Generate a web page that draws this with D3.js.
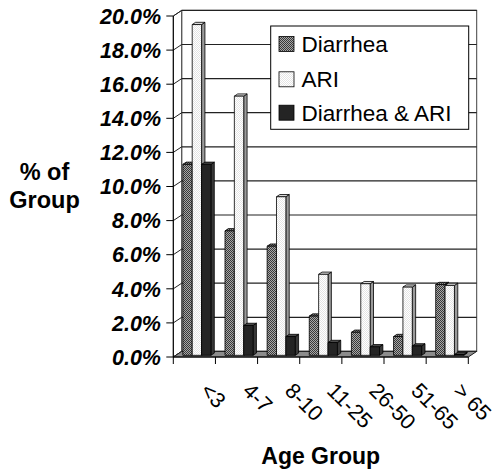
<!DOCTYPE html>
<html>
<head>
<meta charset="utf-8">
<script src="https://cdn.jsdelivr.net/npm/d3@7"></script>
<style>
    body { margin: 0; background: #fff; }
    text { font-family: "Liberation Sans", Arial, sans-serif; fill: #000; }
</style>
</head>
<body>
<div id="chart"></div>
<script>
var categories = ["<3", "4-7", "8-10", "11-25", "26-50", "51-65", "> 65"];
var seriesNames = ["Diarrhea", "ARI", "Diarrhea & ARI"];
var diarrhea = [11.2, 7.3, 6.4, 2.3, 1.35, 1.1, 4.15];
var ari = [19.4, 15.2, 9.3, 4.75, 4.2, 4.0, 4.1];
var both = [11.2, 1.75, 1.1, 0.75, 0.5, 0.55, 0.05];
var yTicks = [0, 2, 4, 6, 8, 10, 12, 14, 16, 18, 20];

var W = 496, H = 474;
// depth offset of the 3d box, and the slice of depth used by the columns
var DX = 8.4, DY = -5.6, F0 = 0.3, F1 = 0.7;

var svg = d3.select("#chart").append("svg")
    .attr("width", W)
    .attr("height", H);

var defs = svg.append("defs");

function checker(id, a, b) {
    var p = defs.append("pattern")
        .attr("id", id)
        .attr("width", 2)
        .attr("height", 2)
        .attr("patternUnits", "userSpaceOnUse");
    p.append("rect").attr("width", 2).attr("height", 2).attr("fill", a);
    p.append("rect").attr("width", 1).attr("height", 1).attr("fill", b);
    p.append("rect").attr("x", 1).attr("y", 1).attr("width", 1).attr("height", 1).attr("fill", b);
}
checker("dFront", "#a8a8a8", "#383838");
checker("dSide", "#707070", "#202020");
checker("dTop", "#909090", "#303030");
checker("aFront", "#ffffff", "#e4e4e4");

var styles = [
    {front: "url(#dFront)", side: "url(#dSide)", top: "url(#dTop)"},
    {front: "url(#aFront)", side: "#9a9a9a", top: "#d8d8d8"},
    {front: "#242424", side: "#383838", top: "#4a4a4a"}
];

var x0 = d3.scaleBand()
    .domain(categories)
    .range([173.3, 468.3])
    .padding(0);

var x1 = d3.scaleBand()
    .domain(seriesNames)
    .range([0, x0.bandwidth()])
    .paddingInner(0)
    .paddingOuter(0.75);

var y = d3.scaleLinear()
    .domain([0, 20])
    .range([357, 16]);

var xL = x0.range()[0], xR = x0.range()[1];

function pts(arr) {
    return arr.map(function(p) { return p[0].toFixed(2) + "," + p[1].toFixed(2); }).join(" ");
}

// back wall
svg.append("rect")
    .attr("x", xL + DX)
    .attr("y", y(20) + DY)
    .attr("width", xR - xL)
    .attr("height", y(0) - y(20))
    .attr("fill", "#fff")
    .attr("stroke", "#404040");

// left wall
svg.append("polygon")
    .attr("points", pts([[xL, y(0)], [xL, y(20)], [xL + DX, y(20) + DY], [xL + DX, y(0) + DY]]))
    .attr("fill", "#fff")
    .attr("stroke", "#404040");

// gridlines on the walls
yTicks.forEach(function(t) {
    svg.append("line")
        .attr("x1", xL + DX).attr("x2", xR + DX)
        .attr("y1", y(t) + DY).attr("y2", y(t) + DY)
        .attr("stroke", "#222")
        .attr("stroke-width", 1.2);
    svg.append("line")
        .attr("x1", xL).attr("x2", xL + DX)
        .attr("y1", y(t)).attr("y2", y(t) + DY)
        .attr("stroke", "#222");
});

// floor
svg.append("polygon")
    .attr("points", pts([[xL, y(0)], [xR, y(0)], [xR + DX, y(0) + DY], [xL + DX, y(0) + DY]]))
    .attr("fill", "#8c8c8c")
    .attr("stroke", "#202020");

// legend box sits on the back wall
var lg = svg.append("g");
lg.append("rect")
    .attr("x", 270.7)
    .attr("y", 26)
    .attr("width", 198)
    .attr("height", 103.3)
    .attr("fill", "#fff")
    .attr("stroke", "#000");

var data = [diarrhea, ari, both];

categories.forEach(function(c, ci) {
    seriesNames.forEach(function(s, si) {
        var v = data[si][ci];
        var bx = x0(c) + x1(s) + F0 * DX;
        var bw = x1.bandwidth();
        var by0 = y(0) + F0 * DY;
        var by1 = y(v) + F0 * DY;
        var ddx = (F1 - F0) * DX, ddy = (F1 - F0) * DY;
        var g = svg.append("g").attr("stroke", "#000").attr("stroke-width", 0.8).attr("stroke-linejoin", "round");
        g.append("polygon")
            .attr("points", pts([[bx + bw, by0], [bx + bw + ddx, by0 + ddy], [bx + bw + ddx, by1 + ddy], [bx + bw, by1]]))
            .attr("fill", styles[si].side);
        g.append("polygon")
            .attr("points", pts([[bx, by1], [bx + bw, by1], [bx + bw + ddx, by1 + ddy], [bx + ddx, by1 + ddy]]))
            .attr("fill", styles[si].top);
        g.append("rect")
            .attr("x", bx)
            .attr("y", by1)
            .attr("width", bw)
            .attr("height", by0 - by1)
            .attr("fill", styles[si].front);
    });
});

// value axis on the front left edge
svg.append("line")
    .attr("x1", xL).attr("x2", xL)
    .attr("y1", y(0)).attr("y2", y(20))
    .attr("stroke", "#000");

yTicks.forEach(function(t) {
    svg.append("line")
        .attr("x1", xL - 7).attr("x2", xL)
        .attr("y1", y(t)).attr("y2", y(t))
        .attr("stroke", "#000");
    svg.append("text")
        .attr("x", 161)
        .attr("y", y(t))
        .attr("dy", "0.36em")
        .attr("text-anchor", "end")
        .style("font-size", "21.5px")
        .style("font-weight", "bold")
        .style("font-style", "italic")
        .text(d3.format(".1f")(t) + "%");
});

// category axis on the front bottom edge
svg.append("line")
    .attr("x1", xL).attr("x2", xR)
    .attr("y1", y(0)).attr("y2", y(0))
    .attr("stroke", "#000");

d3.range(categories.length + 1).forEach(function(i) {
    var tx = xL + i * x0.step();
    svg.append("line")
        .attr("x1", tx).attr("x2", tx)
        .attr("y1", y(0)).attr("y2", y(0) + 7)
        .attr("stroke", "#000");
});

categories.forEach(function(c) {
    var cx = x0(c) + x0.bandwidth() / 2 + 5;
    svg.append("text")
        .attr("transform", "translate(" + cx + ",392) rotate(45)")
        .attr("text-anchor", "start")
        .style("font-size", "21.5px")
        .text(c);
});

// axis titles
svg.append("text")
    .attr("x", 44.5)
    .attr("y", 180)
    .attr("text-anchor", "middle")
    .style("font-size", "23.5px")
    .style("font-weight", "bold")
    .text("% of");
svg.append("text")
    .attr("x", 44.5)
    .attr("y", 208)
    .attr("text-anchor", "middle")
    .style("font-size", "23.5px")
    .style("font-weight", "bold")
    .text("Group");
svg.append("text")
    .attr("x", 320.7)
    .attr("y", 464)
    .attr("text-anchor", "middle")
    .style("font-size", "23px")
    .style("font-weight", "bold")
    .text("Age Group");

// legend entries
var legendY = [44, 79.3, 112.7];
seriesNames.forEach(function(s, si) {
    lg.append("rect")
        .attr("x", 279)
        .attr("y", legendY[si] - 7.5)
        .attr("width", 15)
        .attr("height", 15)
        .attr("fill", styles[si].front)
        .attr("stroke", "#000")
        .attr("stroke-width", 0.8);
    lg.append("text")
        .attr("x", 301.5)
        .attr("y", legendY[si])
        .attr("dy", "0.36em")
        .style("font-size", "22.5px")
        .text(s);
});
</script>
</body>
</html>
